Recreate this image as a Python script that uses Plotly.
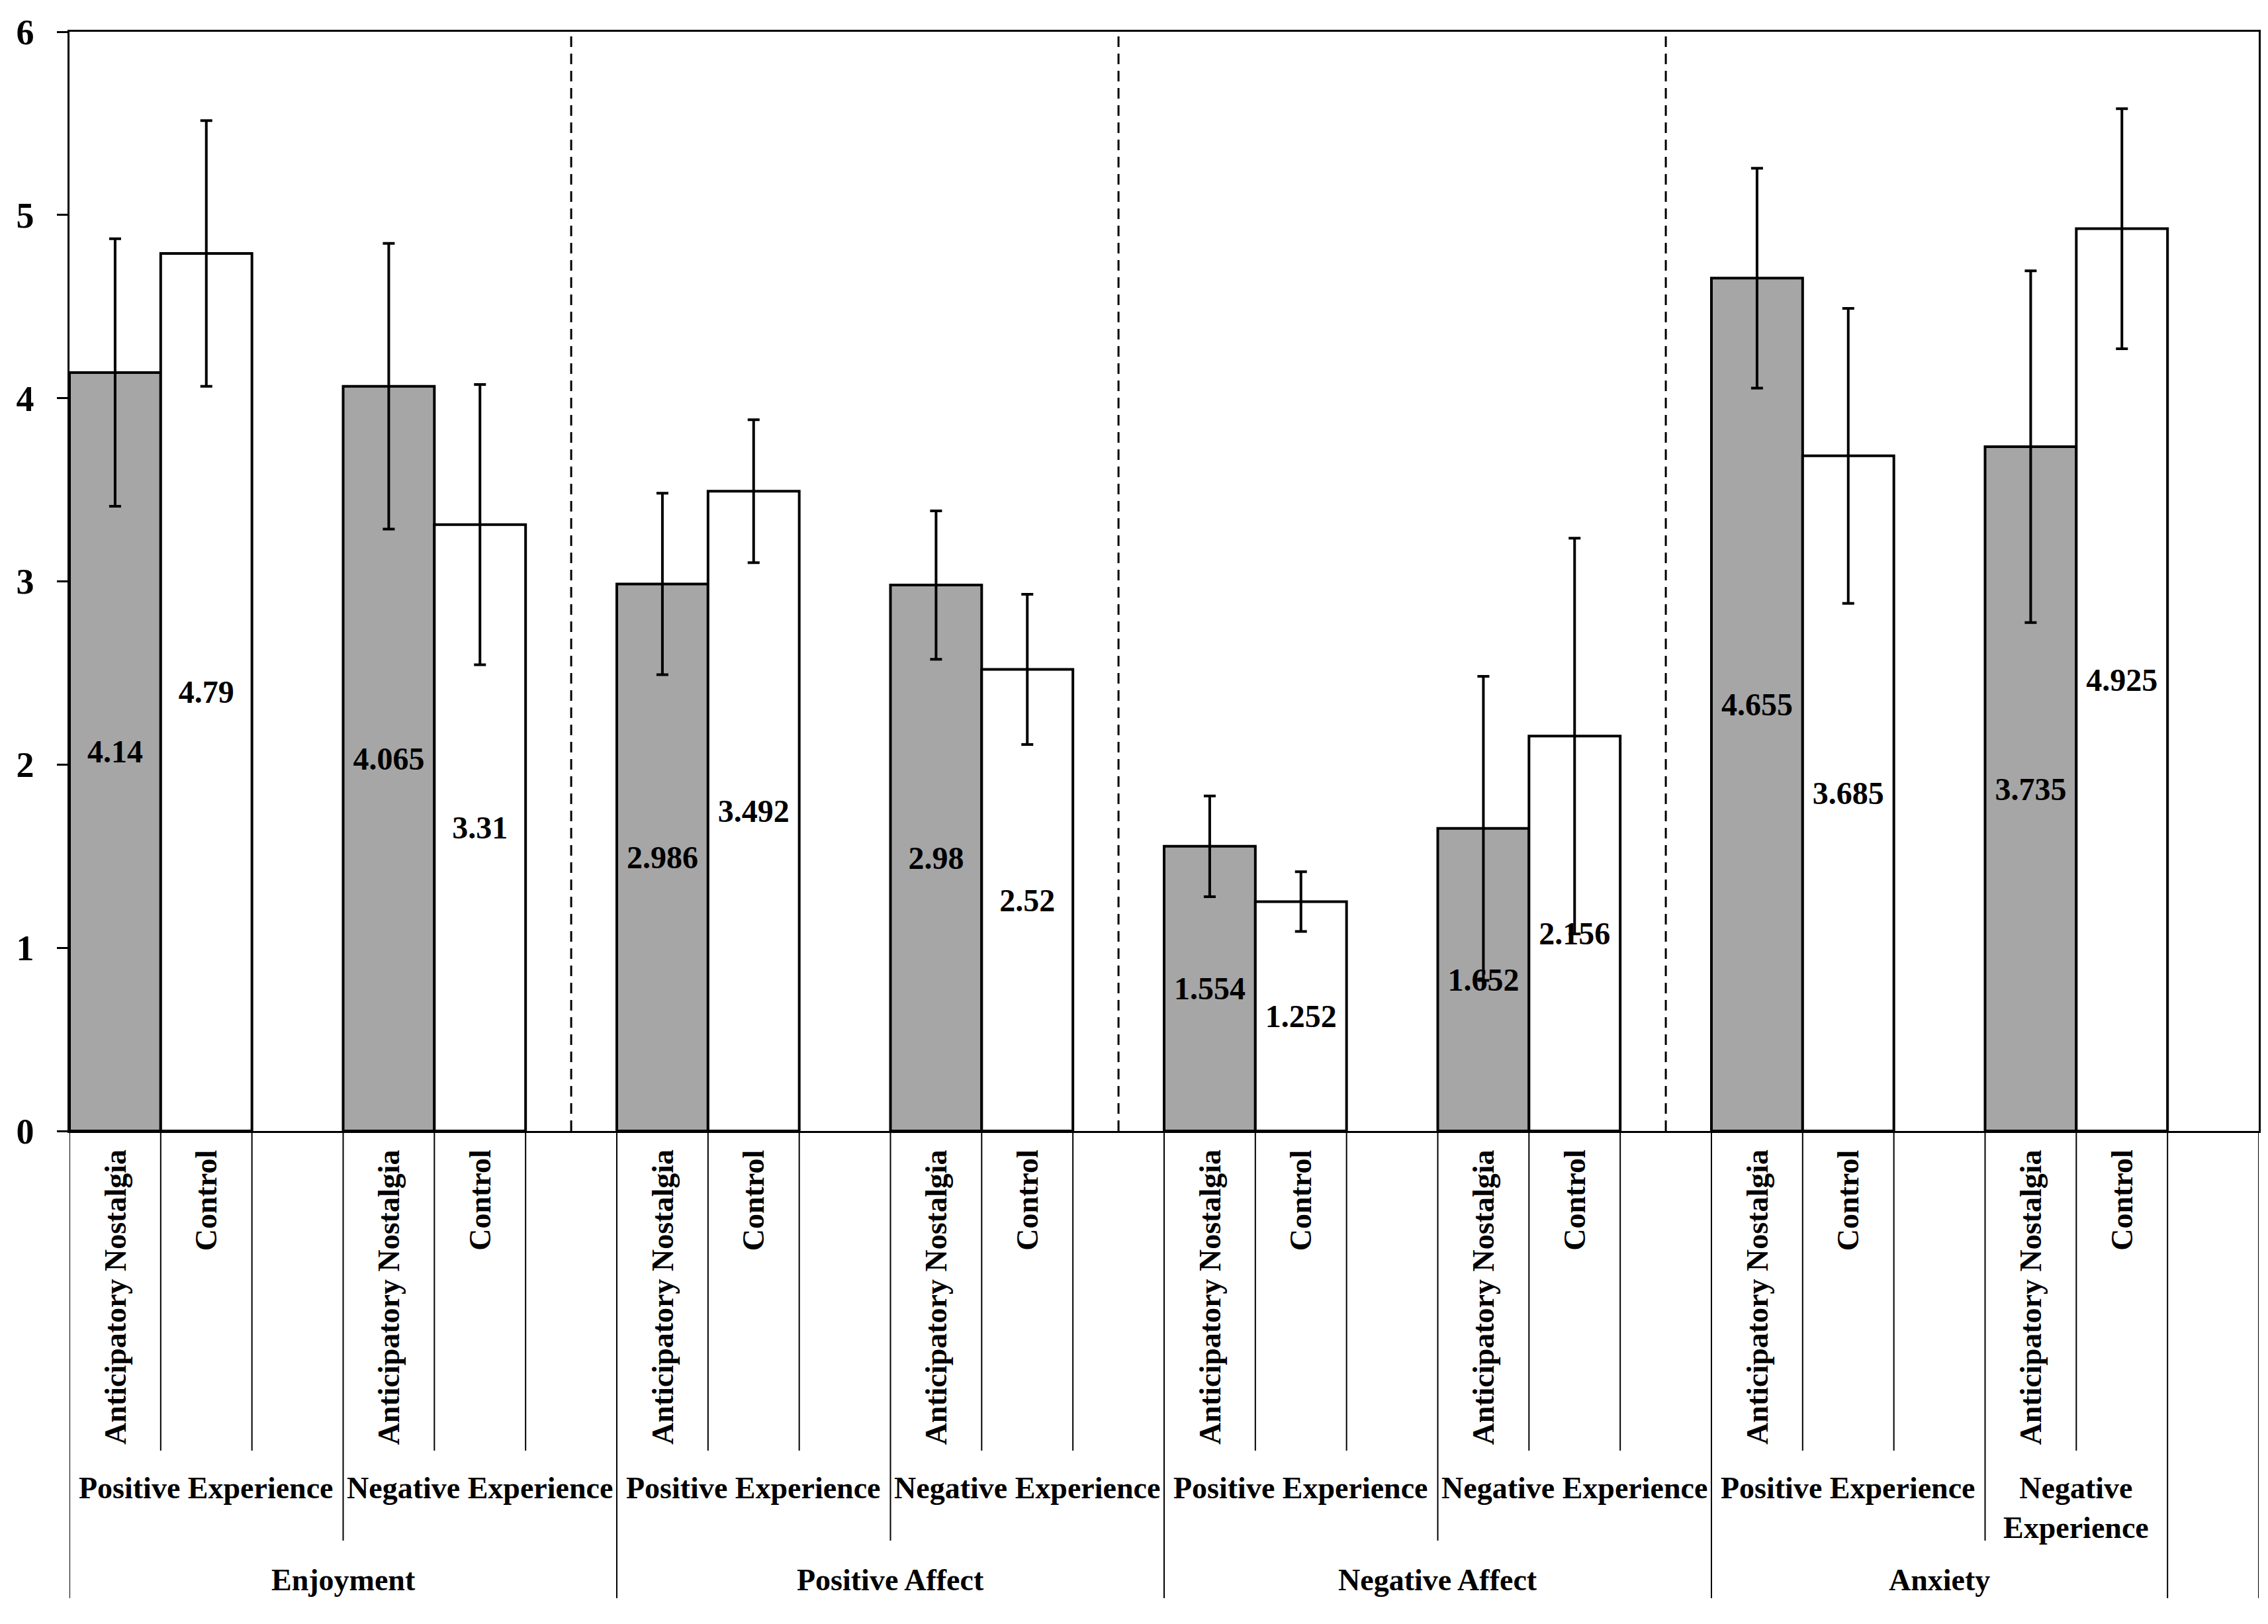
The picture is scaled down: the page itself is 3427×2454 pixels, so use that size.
import plotly.graph_objects as go

# values
measures = ["Enjoyment", "Positive Affect", "Negative Affect", "Anxiety"]
experiences = ["Positive Experience", "Negative Experience"]
conditions = ["Anticipatory Nostalgia", "Control"]

# one value per (measure, experience), in the order above
nostalgia_means = [4.14, 4.065, 2.986, 2.98, 1.554, 1.652, 4.655, 3.735]
control_means = [4.79, 3.31, 3.492, 2.52, 1.252, 2.156, 3.685, 4.925]
nostalgia_err = [0.73, 0.78, 0.495, 0.405, 0.275, 0.83, 0.60, 0.96]
control_err = [0.725, 0.765, 0.39, 0.41, 0.163, 1.08, 0.805, 0.655]

y_ticks = [0, 1, 2, 3, 4, 5, 6]

FONT = dict(family="Liberation Serif", size=46, color="black", weight="bold")
BAR_FONT = dict(family="Liberation Serif", size=48, color="black", weight="bold")
n_sub = len(nostalgia_means)
n_slots = 3 * n_sub  # each subgroup: nostalgia, control, blank

nost_x = [3 * k + 0.5 for k in range(n_sub)]
ctrl_x = [3 * k + 1.5 for k in range(n_sub)]

fig = go.Figure()
fig.add_trace(go.Bar(
    x=nost_x, y=nostalgia_means, width=1, name=conditions[0],
    marker=dict(color="#a6a6a6", line=dict(color="black", width=4)),
    text=[str(v) for v in nostalgia_means], textposition="inside",
    insidetextanchor="middle", textangle=0, textfont=BAR_FONT,
    error_y=dict(type="data", array=nostalgia_err, color="black", thickness=4, width=9),
))
fig.add_trace(go.Bar(
    x=ctrl_x, y=control_means, width=1, name=conditions[1],
    marker=dict(color="white", line=dict(color="black", width=4)),
    text=[str(v) for v in control_means], textposition="inside",
    insidetextanchor="middle", textangle=0, textfont=BAR_FONT,
    error_y=dict(type="data", array=control_err, color="black", thickness=4, width=9),
))

shapes = []
annotations = []

# dashed separators between the measures
for g in range(1, len(measures)):
    xs = 6 * g - 0.5
    shapes.append(dict(type="line", xref="x", yref="y", x0=xs, x1=xs, y0=0, y1=6,
                       line=dict(color="black", width=3, dash="16px,10px")))

# multi-level category axis below the plot
L1, L2, L3 = 483, 619, 706
depth = {i: L1 for i in range(n_slots + 1)}
sub_spans = []
for k in range(n_sub):
    start = 3 * k
    end = 3 * k + 3 if k < n_sub - 1 else 3 * k + 2
    sub_spans.append((start, end))
    depth[start] = max(depth[start], L2)
    depth[end] = max(depth[end], L2)
grp_spans = []
for g in range(len(measures)):
    start = 6 * g
    end = 6 * g + 6 if g < len(measures) - 1 else 6 * g + 5
    grp_spans.append((start, end))
    depth[start] = L3
    depth[end] = L3
depth[n_slots] = L3

for xb, d in depth.items():
    shapes.append(dict(type="line", xref="x", yref="paper", ysizemode="pixel", yanchor=0,
                       x0=xb, x1=xb, y0=0, y1=-d, line=dict(color="black", width=2)))

for k in range(n_sub):
    for lab, xc in zip(conditions, [nost_x[k], ctrl_x[k]]):
        annotations.append(dict(x=xc, y=0, xref="x", yref="paper", text=lab,
                                textangle=-90, showarrow=False, yanchor="top",
                                xanchor="center", yshift=-26, font=FONT))
    s, e = sub_spans[k]
    lab = experiences[k % 2]
    if e - s < 3:
        lab = lab.replace(" ", "<br>")
    annotations.append(dict(x=(s + e) / 2, y=0, xref="x", yref="paper", text=lab,
                            showarrow=False, yanchor="top", xanchor="center",
                            yshift=-512, font=FONT))

for g, m in enumerate(measures):
    s, e = grp_spans[g]
    annotations.append(dict(x=(s + e) / 2, y=0, xref="x", yref="paper", text=m,
                            showarrow=False, yanchor="middle", xanchor="center",
                            yshift=-678, font=FONT))

fig.update_layout(
    width=3419, height=2446,
    margin=dict(l=97, r=11, t=18, b=745),
    paper_bgcolor="white", plot_bgcolor="white",
    barmode="overlay", showlegend=False,
    uniformtext=dict(minsize=48, mode="show"),
    shapes=shapes, annotations=annotations,
    font=FONT,
)
fig.update_xaxes(range=[0, n_slots], showticklabels=False, ticks="", showgrid=False,
                 zeroline=False, showline=True, linecolor="black", linewidth=2.5, mirror=True)
fig.update_yaxes(range=[0, 6], tickvals=y_ticks, ticks="outside", ticklen=16, tickwidth=2.5,
                 tickcolor="black", showgrid=False, zeroline=False, showline=True,
                 linecolor="black", linewidth=2.5, mirror=True, ticklabelstandoff=24,
                 ticklabeloverflow="allow",
                 tickfont=dict(family="Liberation Serif", size=54, color="black", weight="bold"))

fig.write_html("out.html")
